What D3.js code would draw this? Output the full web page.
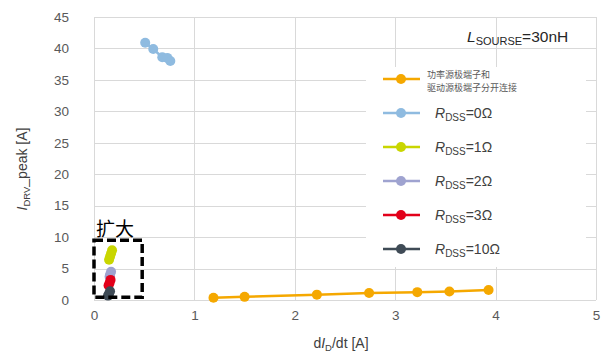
<!DOCTYPE html>
<html>
<head>
<meta charset="utf-8">
<script src="https://cdn.jsdelivr.net/npm/d3@7"></script>
<style>
  body { margin: 0; background: #fff; }
  svg text { font-family: "Liberation Sans", Arial, sans-serif; }
</style>
</head>
<body>
<div id="chart"></div>
<script>
// data
const xTicks = [0, 1, 2, 3, 4, 5];
const yTicks = [0, 5, 10, 15, 20, 25, 30, 35, 40, 45];

const seriesNames = ['separate', '0', '1', '2', '3', '10'];
const seriesColors = ['#f5a800', '#8fbbe0', '#c9d600', '#9fa3d0', '#e2001a', '#3f4b56'];

const separateX = [1.19, 1.50, 2.22, 2.74, 3.22, 3.54, 3.93];
const separateY = [0.35, 0.50, 0.85, 1.10, 1.25, 1.35, 1.60];
const r0X = [0.51, 0.59, 0.68, 0.73, 0.76];
const r0Y = [40.9, 39.9, 38.6, 38.5, 38.0];
const r1X = [0.15, 0.16, 0.17, 0.18];
const r1Y = [6.4, 6.9, 7.4, 7.9];
const r2X = [0.155, 0.16, 0.17];
const r2Y = [3.7, 4.0, 4.5];
const r3X = [0.145, 0.155, 0.165];
const r3Y = [2.3, 2.7, 3.2];
const r10X = [0.14, 0.15, 0.16];
const r10Y = [0.7, 1.0, 1.4];

const zoomBox = { x0: 0, x1: 0.48, y0: 0.45, y1: 9.5 };

(function() {
    const W = 615, H = 358;
    const margin = { left: 94, right: 19, top: 17, bottom: 58 };

    const svg = d3.select('#chart').append('svg')
        .attr('width', W)
        .attr('height', H);

    const x = d3.scaleLinear().domain([0, 5]).range([margin.left, W - margin.right]);
    const y = d3.scaleLinear().domain([0, 45]).range([H - margin.bottom, margin.top]);

    // gridlines
    const grid = svg.append('g').attr('stroke', '#d9d9d9').attr('stroke-width', 1);
    grid.selectAll('.gx').data(xTicks).enter().append('line')
        .attr('x1', d => Math.round(x(d)) + 0.5).attr('x2', d => Math.round(x(d)) + 0.5)
        .attr('y1', y(45)).attr('y2', y(0));
    grid.selectAll('.gy').data(yTicks).enter().append('line')
        .attr('x1', x(0)).attr('x2', x(5))
        .attr('y1', d => Math.round(y(d)) + 0.5).attr('y2', d => Math.round(y(d)) + 0.5);

    // axes (labels only, lines are the grid)
    const xAxis = svg.append('g')
        .attr('transform', `translate(0, ${y(0) + 4})`)
        .call(d3.axisBottom(x).tickValues(xTicks).tickFormat(d3.format('d')).tickSize(0).tickPadding(6));
    const yAxis = svg.append('g')
        .attr('transform', `translate(${x(0) - 25}, 0)`)
        .call(d3.axisLeft(y).tickValues(yTicks).tickFormat(d3.format('d')).tickSize(0).tickPadding(0));
    [xAxis, yAxis].forEach(a => {
        a.select('.domain').remove();
        a.selectAll('text')
            .style('font-size', '13.5px')
            .style('font-family', '"Liberation Sans", Arial, sans-serif')
            .attr('fill', '#595959');
    });

    // axis titles
    const xt = svg.append('text')
        .attr('x', 341).attr('y', 348)
        .attr('text-anchor', 'middle')
        .style('font-size', '14px')
        .attr('fill', '#404040');
    xt.append('tspan').text('d');
    xt.append('tspan').text('I').style('font-style', 'italic');
    xt.append('tspan').text('D').style('font-size', '9.5px').attr('dy', 3);
    xt.append('tspan').text('/dt [A]').attr('dy', -3);

    const yt = svg.append('text')
        .attr('transform', 'translate(27, 169) rotate(-90)')
        .attr('text-anchor', 'middle')
        .style('font-size', '14px')
        .attr('fill', '#404040');
    yt.append('tspan').text('I').style('font-style', 'italic');
    yt.append('tspan').text('DRV').style('font-size', '9.5px').attr('dy', 3);
    yt.append('tspan').text('_peak [A]').attr('dy', -3);

    // series
    const allSeries = [
        [separateX, separateY], [r0X, r0Y], [r1X, r1Y],
        [r2X, r2Y], [r3X, r3Y], [r10X, r10Y]
    ];
    const line = d3.line().x(d => x(d[0])).y(d => y(d[1]));
    allSeries.forEach(([xs, ys], i) => {
        const pts = xs.map((v, k) => [v, ys[k]]);
        const g = svg.append('g');
        g.append('path')
            .datum(pts)
            .attr('d', line)
            .attr('fill', 'none')
            .attr('stroke', seriesColors[i])
            .attr('stroke-width', 2.5);
        g.selectAll('circle').data(pts).enter().append('circle')
            .attr('cx', d => x(d[0]))
            .attr('cy', d => y(d[1]))
            .attr('r', 5)
            .attr('fill', seriesColors[i]);
    });

    // dashed magnify box
    svg.append('rect')
        .attr('x', x(zoomBox.x0))
        .attr('y', y(zoomBox.y1))
        .attr('width', x(zoomBox.x1) - x(zoomBox.x0))
        .attr('height', y(zoomBox.y0) - y(zoomBox.y1))
        .attr('fill', 'none')
        .attr('stroke', '#000')
        .attr('stroke-width', 3.5)
        .attr('stroke-dasharray', '9,4');
    svg.append('text')
        .attr('x', 96).attr('y', 236)
        .style('font-family', '"Noto Sans CJK SC", sans-serif')
        .style('font-size', '19px')
        .attr('fill', '#000')
        .text('扩大');

    // legend
    const legend = svg.append('g');
    legend.append('rect')
        .attr('x', 366).attr('y', 67)
        .attr('width', 220).attr('height', 200)
        .attr('fill', '#fff');
    const legendY = [79, 113, 147, 181, 215, 249];
    seriesNames.forEach((name, i) => {
        const ly = legendY[i];
        legend.append('line')
            .attr('x1', 383).attr('x2', 420)
            .attr('y1', ly).attr('y2', ly)
            .attr('stroke', seriesColors[i])
            .attr('stroke-width', 2.5);
        legend.append('circle')
            .attr('cx', 401).attr('cy', ly).attr('r', 5)
            .attr('fill', seriesColors[i]);
        if (i === 0) {
            legend.append('text')
                .attr('x', 427).attr('y', ly - 1)
                .style('font-family', '"Noto Sans CJK SC", sans-serif')
                .style('font-size', '9px')
                .attr('fill', '#595959')
                .text('功率源极端子和');
            legend.append('text')
                .attr('x', 427).attr('y', ly + 12)
                .style('font-family', '"Noto Sans CJK SC", sans-serif')
                .style('font-size', '9px')
                .attr('fill', '#595959')
                .text('驱动源极端子分开连接');
        } else {
            const t = legend.append('text')
                .attr('x', 435).attr('y', ly + 5)
                .style('font-size', '14px')
                .attr('fill', '#404040');
            t.append('tspan').text('R').style('font-style', 'italic');
            t.append('tspan').text('DSS').style('font-size', '10px').attr('dy', 3);
            t.append('tspan').text('=' + name + 'Ω').attr('dy', -3);
        }
    });

    // inductance note
    const note = svg.append('text')
        .attr('x', 467).attr('y', 42)
        .style('font-size', '15.5px')
        .attr('fill', '#262626');
    note.append('tspan').text('L').style('font-style', 'italic');
    note.append('tspan').text('SOURSE').style('font-size', '11px').attr('dy', 3);
    note.append('tspan').text('=30nH').attr('dy', -3);
})();
</script>
</body>
</html>
